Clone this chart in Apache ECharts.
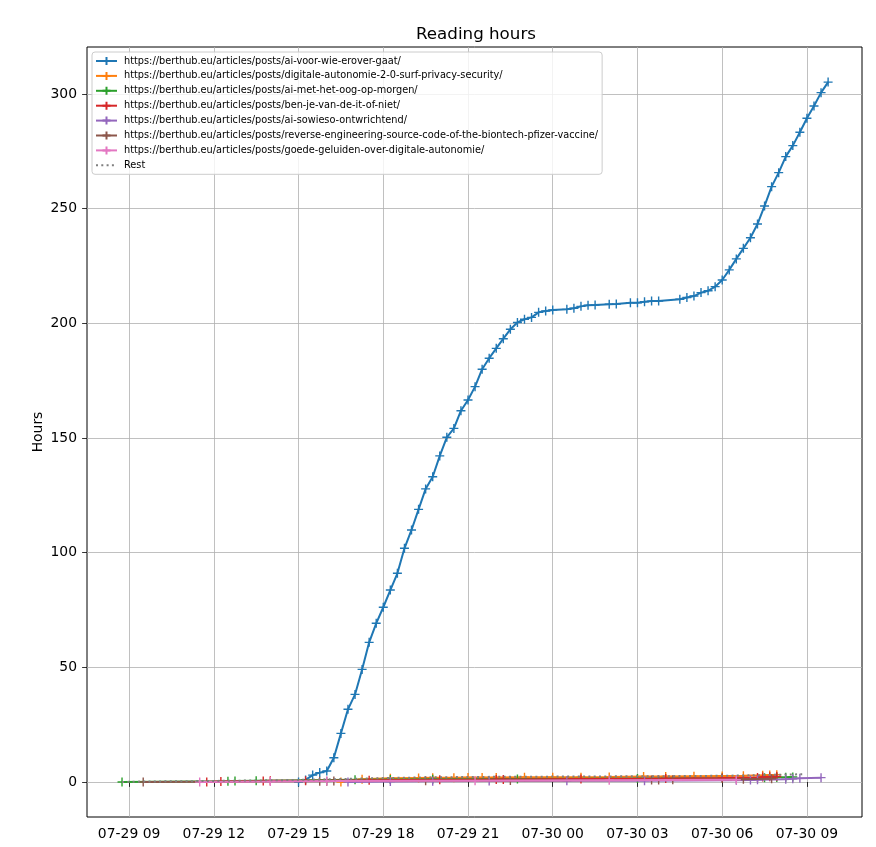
<!DOCTYPE html>
<html><head><meta charset="utf-8">
<script src="https://cdn.jsdelivr.net/npm/echarts@6/dist/echarts.min.js"></script>
<style>html,body{margin:0;padding:0;background:#fff}#c{width:876px;height:847px}</style>
</head><body><div id="c"></div>
<script>
// ---------- DATA ----------
const seriesNames = [
  'https://berthub.eu/articles/posts/ai-voor-wie-erover-gaat/',
  'https://berthub.eu/articles/posts/digitale-autonomie-2-0-surf-privacy-security/',
  'https://berthub.eu/articles/posts/ai-met-het-oog-op-morgen/',
  'https://berthub.eu/articles/posts/ben-je-van-de-it-of-niet/',
  'https://berthub.eu/articles/posts/ai-sowieso-ontwrichtend/',
  'https://berthub.eu/articles/posts/reverse-engineering-source-code-of-the-biontech-pfizer-vaccine/',
  'https://berthub.eu/articles/posts/goede-geluiden-over-digitale-autonomie/',
  'Rest'
];
const seriesColors = ['#1f77b4','#ff7f0e','#2ca02c','#d62728','#9467bd','#8c564b','#e377c2','#7f7f7f'];

const voorTimes = ['07-29 15:00','07-29 15:15','07-29 15:30','07-29 15:45','07-29 16:00','07-29 16:15','07-29 16:30','07-29 16:45',
  '07-29 17:00','07-29 17:15','07-29 17:30','07-29 17:45','07-29 18:00','07-29 18:15','07-29 18:30','07-29 18:45',
  '07-29 19:00','07-29 19:15','07-29 19:30','07-29 19:45','07-29 20:00','07-29 20:15','07-29 20:30','07-29 20:45',
  '07-29 21:00','07-29 21:15','07-29 21:30','07-29 21:45','07-29 22:00','07-29 22:15','07-29 22:30','07-29 22:45',
  '07-29 23:00','07-29 23:15','07-29 23:30','07-29 23:45','07-30 00:00','07-30 00:30','07-30 00:45','07-30 01:00',
  '07-30 01:15','07-30 01:30','07-30 02:00','07-30 02:15','07-30 02:45','07-30 03:00','07-30 03:15','07-30 03:30',
  '07-30 03:45','07-30 04:30','07-30 04:45','07-30 05:00','07-30 05:15','07-30 05:30','07-30 05:45','07-30 06:00',
  '07-30 06:15','07-30 06:30','07-30 06:45','07-30 07:00','07-30 07:15','07-30 07:30','07-30 07:45','07-30 08:00',
  '07-30 08:15','07-30 08:30','07-30 08:45','07-30 09:00','07-30 09:15','07-30 09:30','07-30 09:45'];
const voorHours = [0.0,0.9,3.0,4.1,4.8,10.6,21.2,31.7,
  38.2,49.1,60.9,69.2,76.2,83.7,91.0,101.9,
  109.9,118.9,127.8,133.1,142.2,150.3,154.2,161.9,
  166.6,172.4,180.0,184.8,189.1,193.3,197.4,200.4,
  201.8,202.6,204.8,205.4,205.8,206.1,206.6,207.4,
  207.9,208.0,208.3,208.4,209.0,209.0,209.4,209.7,
  209.7,210.5,211.3,211.9,213.4,214.2,216.0,218.9,
  223.3,228.1,232.7,237.3,243.3,251.2,259.6,265.7,
  272.7,277.5,283.3,289.4,294.8,300.6,305.2];

const autonomieTimes = ['07-29 16:30','07-29 17:15','07-29 18:15','07-29 19:15','07-29 19:45','07-29 20:30','07-29 21:00',
  '07-29 21:30','07-29 22:00','07-29 23:00','07-30 00:00','07-30 01:00','07-30 02:00','07-30 03:13','07-30 04:00',
  '07-30 05:00','07-30 06:00','07-30 06:45','07-30 07:26','07-30 07:41','07-30 07:56'];
const autonomieHours = [0.0,1.2,1.6,1.8,1.9,1.9,2.0,2.0,2.0,2.1,2.1,2.1,2.2,2.4,2.4,2.5,2.6,2.7,2.9,3.0,3.2];

const morgenTimes = ['07-29 08:45','07-29 12:30','07-29 12:45','07-29 13:30','07-29 17:00','07-29 18:15','07-29 19:45',
  '07-29 22:45','07-30 03:00','07-30 06:00','07-30 07:30','07-30 07:56','07-30 08:15','07-30 08:30'];
const morgenHours = [0.0,0.3,0.4,0.6,1.0,1.1,1.2,1.3,1.5,1.7,1.9,2.0,2.1,2.2];

const itTimes = ['07-29 11:45','07-29 12:15','07-29 13:45','07-29 14:00','07-29 15:15','07-29 17:30','07-29 20:00',
  '07-29 22:00','07-29 22:15','07-30 01:00','07-30 04:00','07-30 06:00','07-30 07:15','07-30 07:26','07-30 07:41','07-30 07:56'];
const itHours = [0.0,0.2,0.4,0.5,0.6,0.8,1.0,1.1,1.1,1.3,1.5,1.7,2.0,2.2,2.3,2.4];

const sowiesoTimes = ['07-29 16:45','07-29 18:15','07-29 19:45','07-29 21:45','07-30 00:30','07-30 03:15','07-30 06:30',
  '07-30 07:00','07-30 07:15','07-30 08:15','07-30 08:30','07-30 08:45','07-30 09:30'];
const sowiesoHours = [0.0,0.2,0.3,0.4,0.5,0.6,0.8,0.9,1.0,1.2,1.4,1.6,1.9];

const biontechTimes = ['07-29 09:30','07-29 15:45','07-29 16:00','07-29 16:15','07-29 19:30','07-29 22:30','07-30 03:30',
  '07-30 03:45','07-30 04:15','07-30 06:45','07-30 07:45'];
const biontechHours = [0.0,0.3,0.3,0.4,0.6,0.7,0.9,0.9,1.0,1.2,1.4];

const geluidenTimes = ['07-29 11:30','07-29 14:00','07-29 16:00','07-29 21:15','07-30 02:00','07-30 06:30'];
const geluidenHours = [0.0,0.2,0.4,0.6,0.8,1.0];

const restTimes = ['07-29 08:45','07-29 09:30','07-29 11:30','07-29 13:00','07-29 15:00','07-29 16:30','07-29 18:00',
  '07-29 19:30','07-29 21:00','07-29 23:00','07-30 01:00','07-30 03:00','07-30 05:00','07-30 06:30','07-30 07:30',
  '07-30 08:00','07-30 08:30','07-30 08:50'];
const restHours = [0.0,0.2,0.4,0.6,0.9,1.3,1.7,2.0,2.2,2.3,2.4,2.5,2.6,2.8,3.0,3.2,3.3,3.4];

// tick positions (hours since 07-29 00:00) and y tick values
const xTickHours = [9, 12, 15, 18, 21, 24, 27, 30, 33];
const yTickValues = [0, 50, 100, 150, 200, 250, 300];

// ---------- BUILD ----------
function toHours(s) {
  const [d, t] = s.split(' ');
  const dd = Number(d.split('-')[1]);
  const [hh, mm] = t.split(':').map(Number);
  return (dd - 29) * 24 + hh + mm / 60;
}
function pairs(times, vals) { return times.map((t, i) => [toHours(t), vals[i]]); }
const allData = [
  pairs(voorTimes, voorHours), pairs(autonomieTimes, autonomieHours), pairs(morgenTimes, morgenHours),
  pairs(itTimes, itHours), pairs(sowiesoTimes, sowiesoHours), pairs(biontechTimes, biontechHours),
  pairs(geluidenTimes, geluidenHours), pairs(restTimes, restHours)
];
const FONT = 'DejaVu Sans';
const plus = 'path://M0,5L10,5M5,0L5,10';
const pad2 = n => (n < 10 ? '0' : '') + n;

const series = allData.map((d, i) => {
  const c = seriesColors[i];
  const isRest = seriesNames[i] === 'Rest';
  return {
    name: seriesNames[i], type: 'line', data: d,
    symbol: isRest ? 'circle' : plus, symbolSize: 9, showAllSymbol: true, showSymbol: !isRest,
    lineStyle: { width: 2, color: c, type: isRest ? [2, 3.3] : 'solid', cap: 'butt' },
    itemStyle: isRest ? { color: 'rgba(0,0,0,0)', borderWidth: 0 } : { color: c, borderColor: c, borderWidth: 1.4 },
    emphasis: { disabled: true }, animation: false, z: 2 + i * 0.01
  };
});

const tickStyle = { show: true, length: 4.9, lineStyle: { color: '#000', width: 0.8 } };
const gridLine = { show: true, lineStyle: { color: '#b0b0b0', width: 0.8 } };

const chart = echarts.init(document.getElementById('c'), null, { renderer: 'canvas' });
chart.setOption({
  animation: false,
  backgroundColor: '#fff',
  title: { text: 'Reading hours', left: 416, top: 26, padding: 0,
    textStyle: { fontFamily: FONT, fontSize: 16.7, fontWeight: 'normal', color: '#000' } },
  grid: { left: 87, right: 14, top: 47, bottom: 30, show: true, borderColor: '#000', borderWidth: 1, backgroundColor: 'transparent' },
  legend: {
    data: seriesNames, orient: 'vertical', left: 92, top: 52,
    itemWidth: 21, itemHeight: 10, itemGap: 4.9, padding: [4, 4, 4, 3],
    backgroundColor: 'rgba(255,255,255,0.8)', borderColor: '#cccccc', borderWidth: 1, borderRadius: 3,
    textStyle: { fontFamily: FONT, fontSize: 9.75, color: '#000', padding: [0, 0, 0, 2] },
    selectedMode: false
  },
  xAxis: {
    type: 'value', min: 7.51, max: 34.95,
    axisLine: { show: false },
    axisTick: Object.assign({ customValues: xTickHours }, tickStyle),
    splitLine: gridLine,
    axisLabel: { customValues: xTickHours, margin: 10,
      fontFamily: FONT, fontSize: 13.9, color: '#000',
      formatter: v => {
        const day = 29 + Math.floor(v / 24); const h = Math.round(v - Math.floor(v / 24) * 24);
        return '07-' + day + ' ' + pad2(h);
      } }
  },
  yAxis: {
    type: 'value', min: -15.26, max: 320.5,
    name: 'Hours', nameLocation: 'middle', nameGap: 42, nameMoveOverlap: false,
    nameTextStyle: { fontFamily: FONT, fontSize: 13.9, color: '#000' },
    axisLine: { show: false },
    axisTick: Object.assign({ customValues: yTickValues }, tickStyle),
    splitLine: gridLine,
    axisLabel: { customValues: yTickValues, margin: 10, fontFamily: FONT, fontSize: 13.9, color: '#000',
      formatter: v => String(Math.round(v)) }
  },
  series: series
});
</script></body></html>
